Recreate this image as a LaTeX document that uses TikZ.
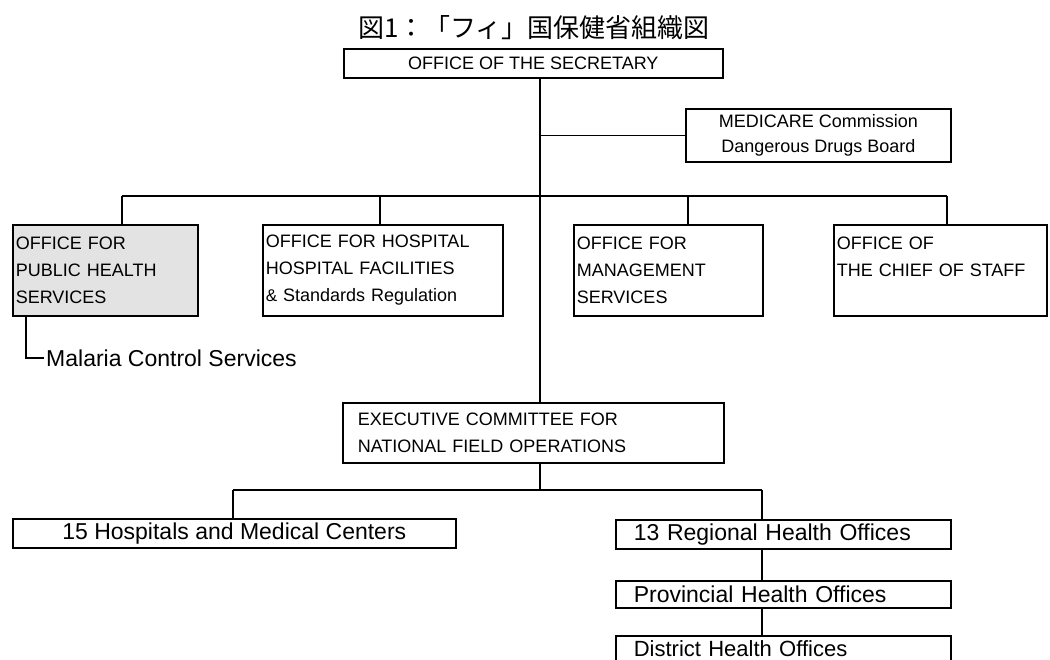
\documentclass[tikz,border=0pt]{standalone}
\usepackage{fontspec}
\setmainfont{Liberation Sans}
\newfontfamily\jafont{Noto Sans CJK JP}
\usetikzlibrary{positioning}
\tikzstyle{link} = [line width=1.5pt]

\begin{document}
\begin{tikzpicture}[
    x=1pt, y=-1pt,
    unit/.style={rectangle, draw=black, line width=1.6pt, inner sep=0pt, font=\fontsize{18}{27}\selectfont},
    office/.style={unit, anchor=north west, align=left, inner xsep=3pt, minimum height=91pt},
    field/.style={unit, anchor=north west, minimum height=29pt, font=\fontsize{23}{27}\selectfont},
    chain/.style={field, align=left, inner xsep=18pt, text width=299pt}
]
\useasboundingbox (0,0) rectangle (1050,659);

% Nodes
\node (title) at (534,28) {\jafont\fontsize{26}{26}\selectfont 図1：「フィ」国保健省組織図};
\node (sec) [unit, anchor=north west, minimum width=379pt, minimum height=29pt] at (343,48) {OFFICE OF THE SECRETARY};
\node (med) [unit, anchor=north west, minimum width=265pt, minimum height=53pt, align=center, font=\fontsize{18}{25}\selectfont] at (685,108) {MEDICARE Commission\\Dangerous Drugs Board};

\node (pubh) [office, fill=gray!22, text width=179pt] at (12,224) {OFFICE FOR\\PUBLIC HEALTH\\SERVICES};
\node (hospfac) [office, text width=234pt] at (262,224) {OFFICE FOR HOSPITAL\\HOSPITAL FACILITIES\\{\fontsize{17}{27}\selectfont\&} Standards Regulation};
\node (mgmt) [office, text width=183pt] at (573,224) {OFFICE FOR\\MANAGEMENT\\SERVICES};
\node (chief) [office, text width=207pt] at (833,224) {OFFICE OF\\THE CHIEF OF STAFF\\\mbox{}};
\node (mal) [anchor=west, inner sep=2pt, font=\fontsize{23}{27}\selectfont] at (44,358) {Malaria Control Services};

\node (exec) [unit, anchor=north west, align=left, inner xsep=15pt, text width=351pt, minimum height=60pt] at (342,402) {EXECUTIVE COMMITTEE FOR\\NATIONAL FIELD OPERATIONS};

\node (hosp) [field, minimum width=443pt] at (12,518) {15 Hospitals and Medical Centers};
\node (reg) [chain] at (615,519) {13 Regional Health Offices};
\node (prov) [chain, minimum height=27pt] at (615,580) {Provincial Health Offices};
\node (dist) [chain, minimum height=25pt, font=\fontsize{22}{26}\selectfont] at (615,635) {District Health Offices};

% Connectors
\coordinate (trunk) at (540,0);
\coordinate (s1) at (122,196);
\coordinate (s2) at (380,196);
\coordinate (s3) at (688,196);
\coordinate (s4) at (947,196);
\coordinate (mstem) at (26,0);
\coordinate (fork) at (540,490);
\coordinate (f1) at (233,490);
\coordinate (f2) at (762,490);

\draw [link] (sec.south -| trunk) -- (exec.north -| trunk);
\draw [link] (trunk |- med.west) -- (med.west);
\draw [link] (s1) -- (s4);
\foreach \s/\n in {s1/pubh, s2/hospfac, s3/mgmt, s4/chief}
    \draw [link] (\s) -- (\s |- \n.north);
\draw [link] (pubh.south -| mstem) |- (mal.west);

\draw [link] (exec.south -| fork) -- (fork);
\draw [link] (f1) -- (f2);
\draw [link] (f1) -- (f1 |- hosp.north);
\draw [link] (f2) -- (f2 |- reg.north);
\draw [link] (f2 |- reg.south) -- (f2 |- prov.north);
\draw [link] (f2 |- prov.south) -- (f2 |- dist.north);

\end{tikzpicture}
\end{document}
